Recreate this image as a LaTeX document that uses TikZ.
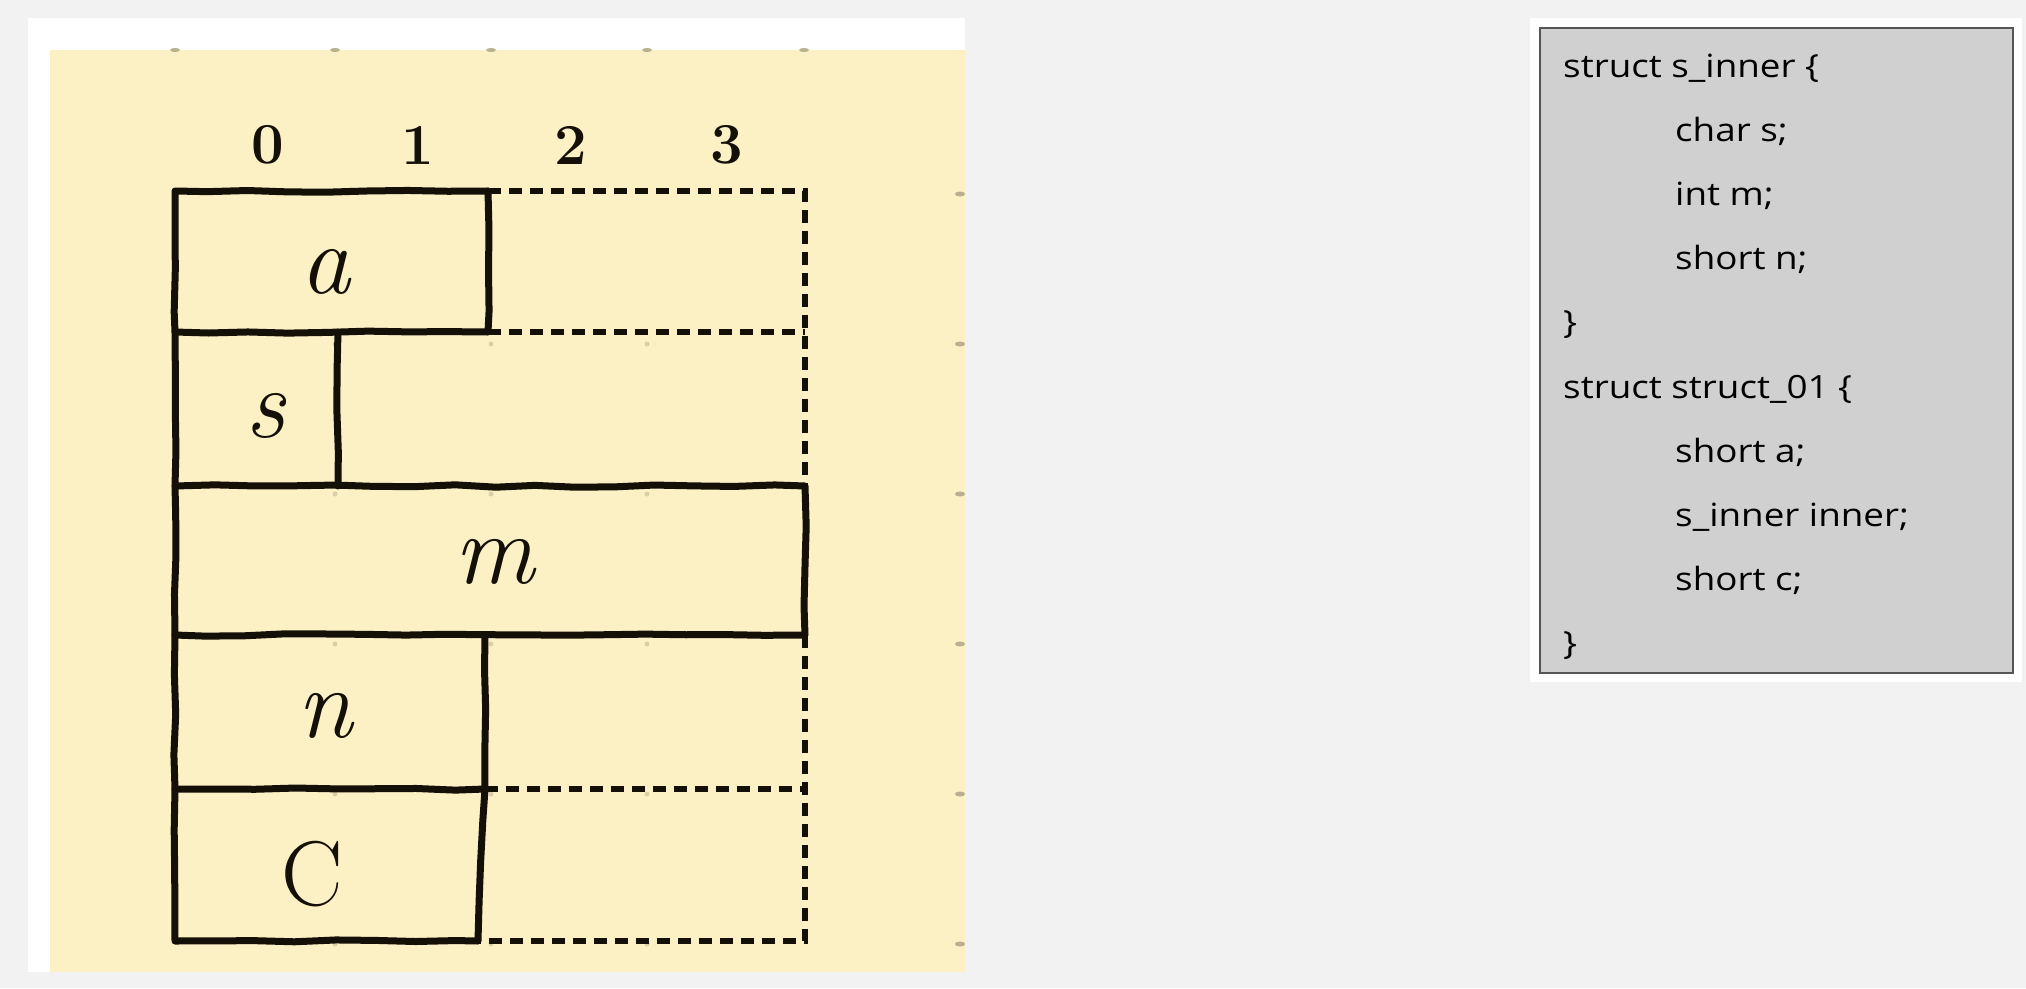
\documentclass[tikz,border=0pt]{standalone}
\usepackage{fontspec}
\setmainfont{Latin Modern Roman}
\newfontfamily\codefont[FakeStretch=1.15]{Open Sans}
\usetikzlibrary{decorations.pathmorphing}
\definecolor{pagebg}{HTML}{F2F2F2}
\definecolor{paper}{HTML}{FCF1C5}
\definecolor{dotc}{HTML}{B8B08E}
\definecolor{codebg}{HTML}{D0D0D0}
\definecolor{codeframe}{HTML}{555555}
\definecolor{ink}{HTML}{141008}
\begin{document}
\begin{tikzpicture}[x=1pt,y=-1pt,
  solidline/.style={draw=ink,line width=7pt,line cap=round,line join=round,
    decorate,decoration={random steps,segment length=40pt,amplitude=1.2pt}},
  dashline/.style={draw=ink,line width=5.5pt,dash pattern=on 13pt off 8pt},
  hand/.style={font=\fontsize{100}{100}\selectfont\itshape,text=ink,inner sep=0pt},
  digit/.style={font=\fontsize{58}{58}\selectfont\bfseries,text=ink,inner sep=0pt},
  codeline/.style={font=\codefont\fontsize{32}{32}\selectfont,text=black,anchor=base west,inner sep=0pt},
  gdot/.style={fill=dotc,draw=none}]
\pgfmathsetseed{7}
\useasboundingbox (0,0) rectangle (2026,988);
\fill[pagebg] (0,0) rectangle (2026,988);
% left panel
\fill[white] (28,18) rectangle (965,972);
\fill[paper] (50,50) rectangle (965,972);
% grid dots
\foreach \x in {175,335,491,647,804} \fill[gdot] (\x,50) ellipse (5pt and 2pt);
\foreach \y in {194,344,494,644,794,944} \fill[gdot] (960,\y) ellipse (5pt and 2.5pt);
\foreach \x in {335,491,647} \foreach \y in {344,494,644,794,944} \fill[gdot,opacity=0.5] (\x,\y) circle (2.5pt);
% corner coordinates
\coordinate (aTL) at (175,191);
\coordinate (aTR) at (488,191);
\coordinate (aBR) at (488,332);
\coordinate (aBL) at (175,332);
\coordinate (dTR) at (805,191);
\coordinate (dR1) at (805,332);
\coordinate (sDivT) at (338,332);
\coordinate (sDivB) at (338,486);
\coordinate (mTL) at (175,486);
\coordinate (mTR) at (805,486);
\coordinate (mBR) at (805,635);
\coordinate (mBL) at (175,635);
\coordinate (nTR) at (485,635);
\coordinate (nBR) at (485,789);
\coordinate (nBL) at (175,789);
\coordinate (dR3) at (805,789);
\coordinate (cBR) at (478,941);
\coordinate (cBL) at (175,941);
\coordinate (dR4) at (805,941);
% dashed parts
\draw[dashline] (aTR) -- (dTR) -- (mTR);
\draw[dashline] (aBR) -- (dR1);
\draw[dashline] (mBR) -- (dR4) -- (cBR);
\draw[dashline] (nBR) -- (dR3);
% solid parts
\draw[solidline] (aTR) -- (aTL) -- (aBL) -- (mTL);
\draw[solidline] (aTR) -- (aBR) -- (aBL);
\draw[solidline] (sDivT) -- (sDivB);
\draw[solidline] (mTL) -- (mTR) -- (mBR) -- (mBL) -- (mTL);
\draw[solidline] (mBL) -- (nBL) -- (cBL) -- (cBR) -- (nBR) -- (nTR);
\draw[solidline] (nBL) -- (nBR);
% digits
\node[digit] (d0) at (268,145) {0};
\node[digit] (d1) at (418,145) {1};
\node[digit] (d2) at (571,145) {2};
\node[digit] (d3) at (727,145) {3};
% field labels
\node[hand] (la) at (325,272) {a};
\node[hand] (ls) at (265,416) {s};
\node[hand] (lm) at (494,562) {m};
\node[hand] (ln) at (325,716) {n};
\node[hand,font=\fontsize{92}{92}\selectfont] (lc) at (312,874) {C};
% code panel
\fill[white] (1530,18) rectangle (2022,682);
\draw[codeframe,line width=2pt,fill=codebg] (1540,28) rectangle (2013,673);
\node[codeline] (c1) at (1563,77) {struct s\_inner \{};
\node[codeline] (c2) at (1675,141.2) {char s;};
\node[codeline] (c3) at (1675,205.4) {int m;};
\node[codeline] (c4) at (1675,269.6) {short n;};
\node[codeline] (c5) at (1563,333.8) {\}};
\node[codeline] (c6) at (1563,398) {struct struct\_01 \{};
\node[codeline] (c7) at (1675,462.2) {short a;};
\node[codeline] (c8) at (1675,526.4) {s\_inner inner;};
\node[codeline] (c9) at (1675,590.6) {short c;};
\node[codeline] (c10) at (1563,654.8) {\}};
\end{tikzpicture}
\end{document}
